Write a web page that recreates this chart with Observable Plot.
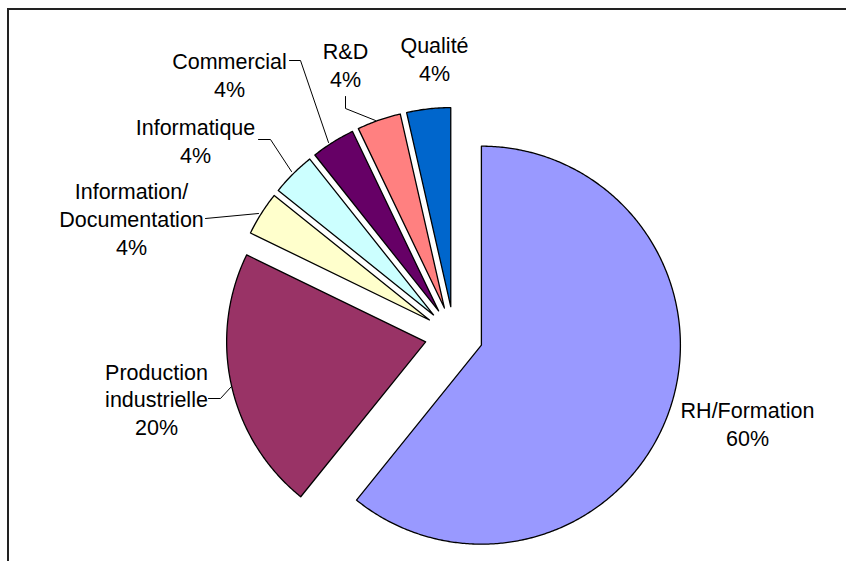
<!DOCTYPE html>
<html><head><meta charset="utf-8">
<script src="https://cdn.jsdelivr.net/npm/d3@7"></script>
<script src="https://cdn.jsdelivr.net/npm/@observablehq/plot@0.6"></script>
<style>
body{margin:0;background:#fff;}
#wrap{position:relative;width:846px;height:561px;overflow:hidden;background:#fff}
#wrap svg{position:absolute;left:0;top:0}
#border{position:absolute;left:7px;top:8px;right:-10px;bottom:-10px;border-top:2px solid #222;border-left:2px solid #222;pointer-events:none;z-index:2}
</style></head><body><div id="wrap"><div id="border"></div></div>
<script>
const categories = ["RH/Formation","Production industrielle","Information/Documentation","Informatique","Commercial","R&D","Qualité"];
const values = [60.8, 21.4, 3.56, 3.56, 3.56, 3.56, 3.56];
const percentLabels = ["60%","20%","4%","4%","4%","4%","4%"];
const labelLines = [["RH/Formation"],["Production","industrielle"],["Information/","Documentation"],["Informatique"],["Commercial"],["R&D"],["Qualité"]];
const colors = ["#9999FF","#993366","#FFFFCC","#CCFFFF","#660066","#FF8080","#0066CC"];

// ---- layout (pixel space of the 846x561 picture) ----
const CX = 453.5, CY = 335, K = 1.99;     // pie centre, px per unit
const R = 100, EXPLODE = 14.6;            // radius and explosion in units
const toX = px => (px - CX) / K, toY = py => (CY - py) / K;
const labelPos = [[747,423],[156,398],[131,217.5],[195,139.5],[229,74],[345,64],[434,57.5]];
const leaders = [
  null,
  [[208,398],[220,398],[231,386]],
  [[205,218],[258,213]],
  [[258,139],[270,139],[291,171]],
  [[289,60],[300,60],[328,142]],
  [[345,96],[345,108],[375,120]],
  null
];

// ---- geometry via d3.pie ----
const arcs = d3.pie().sort(null).startAngle(0).endAngle(2*Math.PI)(values);
const slicePts = [];
arcs.forEach((a, i) => {
  const mid = (a.startAngle + a.endAngle) / 2;
  const ox = EXPLODE * Math.sin(mid), oy = EXPLODE * Math.cos(mid);
  slicePts.push({name: categories[i], x: ox, y: oy});
  const n = Math.max(2, Math.ceil((a.endAngle - a.startAngle) / (Math.PI/360)));
  for (let k = 0; k <= n; k++) {
    const t = a.startAngle + (a.endAngle - a.startAngle) * k / n;
    slicePts.push({name: categories[i], x: ox + R*Math.sin(t), y: oy + R*Math.cos(t)});
  }
});
const labelData = categories.map((c, i) => ({
  name: c,
  text: [...labelLines[i], percentLabels[i]].join("\n"),
  x: toX(labelPos[i][0]), y: toY(labelPos[i][1])
}));
const leaderPts = [];
leaders.forEach((l, i) => { if (l) l.forEach(p => leaderPts.push({name: categories[i], x: toX(p[0]), y: toY(p[1])})); });

const chart = Plot.plot({
  width: 846, height: 561,
  margin: 0,
  x: {domain: [toX(0), toX(846)], axis: null},
  y: {domain: [toY(561), toY(0)], axis: null},
  color: {domain: categories, range: colors},
  style: {background: "white"},
  marks: [
    Plot.line(slicePts, {x: "x", y: "y", z: "name", fill: "name", stroke: "black", strokeWidth: 1.3, curve: "linear-closed"}),
    Plot.line(leaderPts, {x: "x", y: "y", z: "name", stroke: "black", strokeWidth: 1}),
    Plot.text(labelData, {x: "x", y: "y", text: "text", fontSize: 21.5, lineHeight: 1.3, fill: "black", fontFamily: "Liberation Sans, Arial, sans-serif"})
  ]
});
document.getElementById("wrap").insertBefore(chart, document.getElementById("border"));
</script></body></html>
